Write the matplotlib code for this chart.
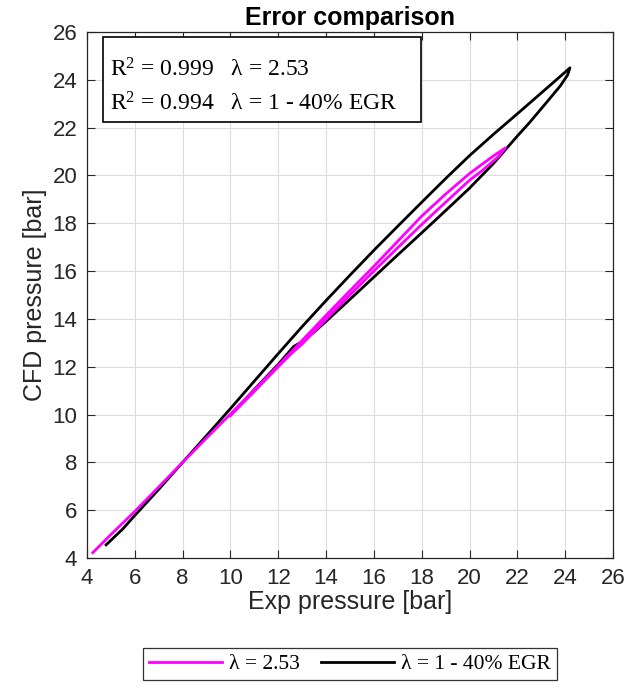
import matplotlib
matplotlib.use('Agg')
import matplotlib.pyplot as plt
from matplotlib.patches import Rectangle

# Data (Exp pressure vs CFD pressure, bar)
lam253_x = [4.24, 5.0, 6.0, 7.0, 8.0, 9.0, 10.0, 11.0, 12.0, 13.0, 14.0, 15.0, 16.0, 17.0,
            18.0, 19.0, 20.0, 21.0, 21.5,
            21.2, 20.5, 20.0, 19.0, 18.0, 17.0, 16.0, 15.0, 14.0, 13.0, 12.6, 12.0, 11.0, 10.0]
lam253_y = [4.22, 4.98, 5.95, 6.97, 8.0, 9.02, 10.02, 11.03, 12.05, 13.1, 14.15, 15.18, 16.2, 17.25,
            18.3, 19.22, 20.08, 20.82, 21.15,
            20.78, 20.18, 19.8, 18.88, 17.95, 16.98, 16.0, 15.0, 13.98, 12.95, 12.6, 12.0, 10.97, 9.95]

egr_x = [4.8, 5.5, 6.0, 7.0, 8.0, 9.0, 10.0, 11.0, 12.0, 13.0, 14.0, 15.0, 16.0, 17.0, 18.0,
         19.0, 20.0, 21.0, 22.0, 23.0, 23.7, 24.2,
         24.1, 23.8, 23.3, 22.5, 22.0, 21.0, 20.0, 19.0, 18.0, 17.0, 16.0, 15.0, 14.0, 13.5,
         13.0, 12.65, 12.3, 12.0, 11.0, 10.35]
egr_y = [4.55, 5.22, 5.78, 6.87, 8.0, 9.12, 10.25, 11.4, 12.55, 13.68, 14.77, 15.83, 16.87, 17.88,
         18.88, 19.87, 20.83, 21.72, 22.58, 23.45, 24.06, 24.5,
         24.2, 23.75, 23.15, 22.2, 21.65, 20.5, 19.47, 18.53, 17.6, 16.68, 15.75, 14.82, 13.9, 13.45,
         13.05, 12.85, 12.45, 12.1, 11.05, 10.35]

labels = ['λ = 2.53', 'λ = 1 - 40% EGR']
r2_lines = [r'R$^{2}$ = 0.999   λ = 2.53', r'R$^{2}$ = 0.994   λ = 1 - 40% EGR']
ticks = list(range(4, 27, 2))

plt.rcParams['font.family'] = ['Liberation Sans', 'DejaVu Sans']
plt.rcParams['mathtext.fontset'] = 'custom'
plt.rcParams['mathtext.rm'] = 'Liberation Serif'
plt.rcParams['mathtext.it'] = 'Liberation Serif'

fig = plt.figure(figsize=(6.37, 6.89), dpi=100)
ax = fig.add_axes([87 / 637, 131 / 689, 526 / 637, 526 / 689])

ax.plot(egr_x, egr_y, color='black', linewidth=2.0, label=labels[1], zorder=3)
ax.plot(lam253_x, lam253_y, color='#ff00ff', linewidth=2.0, label=labels[0], zorder=4)

ax.set_xlim(4, 26)
ax.set_ylim(4, 26)
ax.set_xticks(ticks)
ax.set_yticks(ticks)
ax.tick_params(direction='in', top=True, right=True, labelsize=16, length=6, width=0.8,
               pad=7, colors='#262626')
ax.grid(True, color='#dcdcdc', linewidth=0.8)
ax.set_axisbelow(True)
for s in ax.spines.values():
    s.set_linewidth(0.9)
    s.set_color('#262626')

ax.set_xlabel('Exp pressure [bar]', fontsize=18, color='#262626', labelpad=1)
ax.set_ylabel('CFD pressure [bar]', fontsize=18, color='#262626', labelpad=4)
ax.set_title('Error comparison', fontsize=18, fontweight='bold', pad=5)

# annotation box with R^2 values
fig.patches.append(Rectangle((103 / 637, 1 - 122 / 689), 318 / 637, 85 / 689,
                             transform=fig.transFigure, facecolor='white',
                             edgecolor='black', linewidth=1.2, zorder=5))
fig.text(110 / 637, 1 - 70 / 689, r2_lines[0], family='Liberation Serif', fontsize=17,
         va='center', ha='left', zorder=6)
fig.text(110 / 637, 1 - 104 / 689, r2_lines[1], family='Liberation Serif', fontsize=17,
         va='center', ha='left', zorder=6)

h, l = ax.get_legend_handles_labels()
leg = fig.legend(h[::-1], l[::-1], loc='center', bbox_to_anchor=(350 / 637, 1 - 664 / 689),
                 ncol=2, frameon=True, fancybox=False, edgecolor='black',
                 prop={'family': 'Liberation Serif', 'size': 15.5},
                 handlelength=3.4, columnspacing=1.0, borderpad=0.3, handletextpad=0.3)
leg.get_frame().set_linewidth(0.9)

fig.savefig('out.png', dpi=100)
